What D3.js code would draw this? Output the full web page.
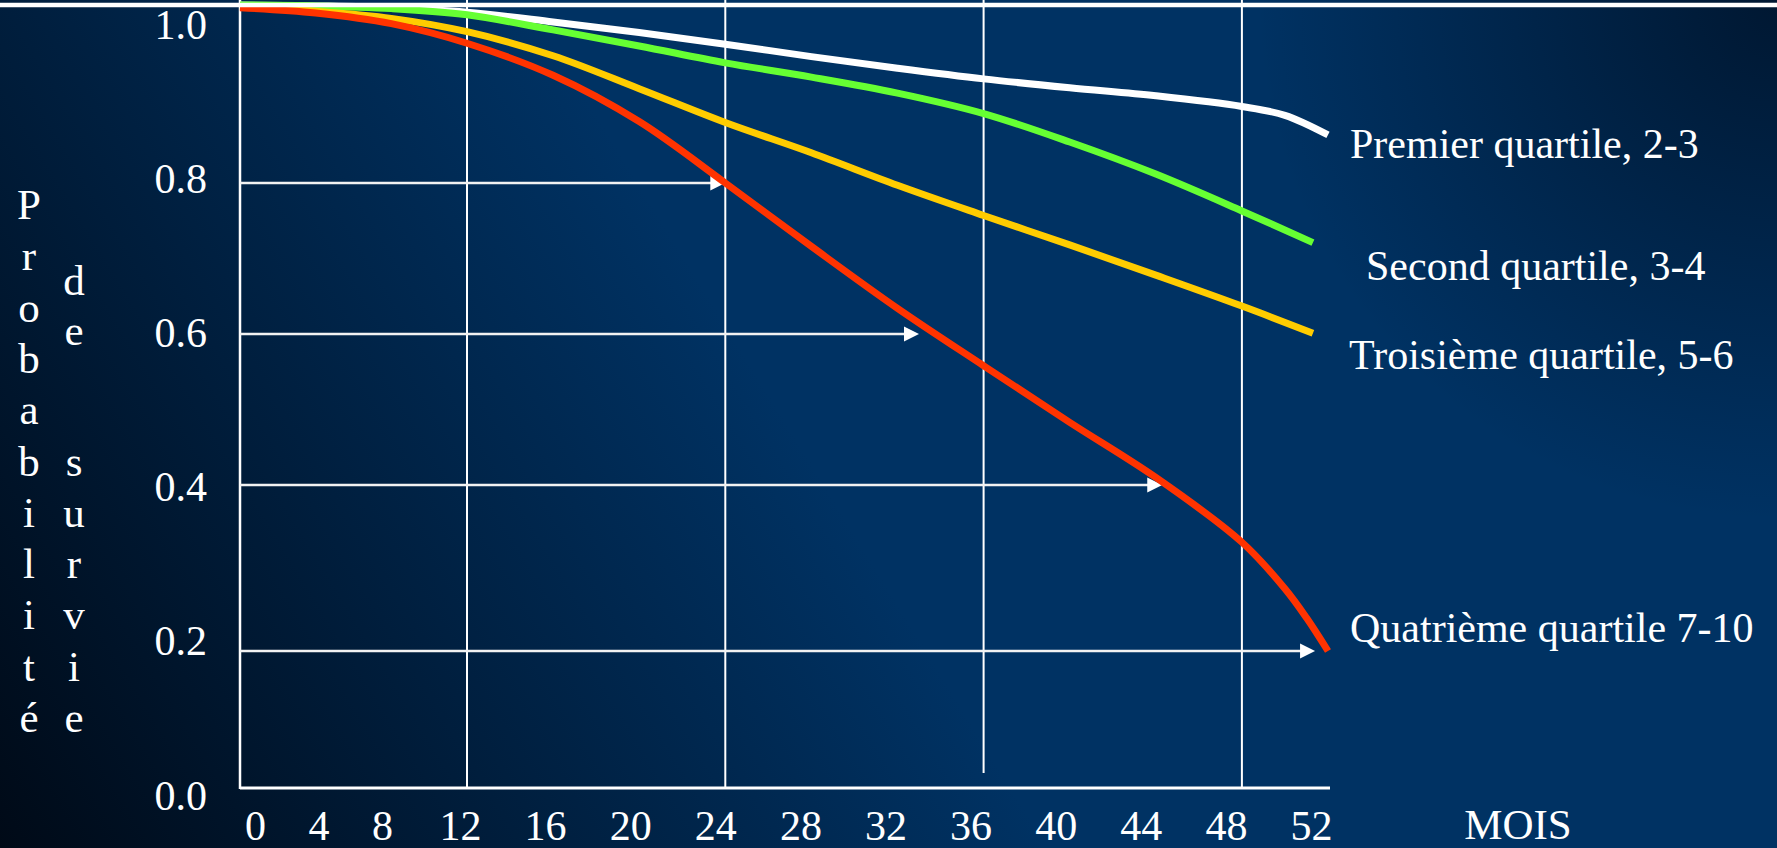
<!DOCTYPE html>
<html>
<head>
<meta charset="utf-8">
<script src="https://cdn.jsdelivr.net/npm/d3@7"></script>
<style>
  body { margin: 0; background: #003263; overflow: hidden; }
  svg text { font-family: "Liberation Serif", "Times New Roman", serif; fill: #ffffff; }
</style>
</head>
<body>
<svg id="chart" width="1777" height="848"></svg>
<script>
// ---- data ----
var xTicks = d3.range(0, 53, 4);
var yTicks = [0, 0.2, 0.4, 0.6, 0.8, 1.0];
var gridMonths = [12, 24, 36, 48];
var gridFloor = [0, 0, 0.022, 0];          // the 36-month line stops short of the axis
var arrowLevels = [0.8, 0.6, 0.4, 0.2];
var arrowMonths = [24, 33, 44.3, 51.4];    // where the 4th quartile reaches each level

var seriesNames = ["Premier quartile, 2-3", "Second quartile, 3-4",
                   "Troisième quartile, 5-6", "Quatrième quartile 7-10"];
var seriesColors = ["#ffffff", "#66ff33", "#ffcc00", "#ff3300"];

var premierMonths = [0, 4, 8, 12, 16, 20, 24, 28, 32, 36, 40, 44, 48, 50, 52];
var premierSurv   = [1.000, 0.999, 0.997, 0.992, 0.981, 0.969, 0.956, 0.942, 0.929, 0.917, 0.907, 0.898, 0.886, 0.876, 0.854];

var secondMonths = [0, 4, 8, 12, 16, 20, 24, 28, 32, 36, 40, 44, 48, 51.3];
var secondSurv   = [1.000, 0.999, 0.996, 0.989, 0.972, 0.954, 0.935, 0.919, 0.901, 0.878, 0.846, 0.810, 0.763, 0.721];

var troisiemeMonths = [0, 4, 8, 12, 16, 20, 24, 28, 32, 36, 40, 44, 48, 51.3];
var troisiemeSurv   = [0.998, 0.993, 0.985, 0.970, 0.943, 0.906, 0.868, 0.834, 0.797, 0.757, 0.718, 0.678, 0.637, 0.601];

var quatriemeMonths = [0, 4, 8, 12, 16, 20, 24, 28, 32, 36, 40, 44, 48, 50, 51, 52];
var quatriemeSurv   = [0.997, 0.991, 0.979, 0.957, 0.921, 0.869, 0.800, 0.716, 0.634, 0.558, 0.483, 0.410, 0.331, 0.275, 0.240, 0.200];

var yTitleA = "Probabilité";
var yTitleB = "de";
var yTitleC = "survie";
var xTitle = "MOIS";

// ---- scales (the slide was drawn by hand, so they are piecewise) ----
var xScale = d3.scaleLinear().domain([0, 12, 52]).range([240, 467, 1328]);
var yScale = d3.scaleLinear().domain([0, 0.2, 0.4, 0.6, 0.8, 1]).range([788, 651, 485, 334, 183, 5]);
var xLabelScale = d3.scaleLinear().domain([0, 8, 12, 52]).range([255, 382, 460, 1311]);
var yLabelScale = d3.scaleLinear().domain([0, 1]).range([809, 38]);

var svg = d3.select("#chart");
var defs = svg.append("defs");

var bg = defs.append("linearGradient").attr("id", "bg")
  .attr("gradientUnits", "userSpaceOnUse")
  .attr("x1", 0).attr("y1", 848).attr("x2", 760).attr("y2", 380);
bg.append("stop").attr("offset", "0%").attr("stop-color", "#000a17");
bg.append("stop").attr("offset", "100%").attr("stop-color", "#003263");

var corner = defs.append("radialGradient").attr("id", "corner")
  .attr("gradientUnits", "userSpaceOnUse")
  .attr("cx", 1777).attr("cy", 0).attr("r", 520);
corner.append("stop").attr("offset", "0%").attr("stop-color", "#000f22").attr("stop-opacity", 0.75);
corner.append("stop").attr("offset", "100%").attr("stop-color", "#000f22").attr("stop-opacity", 0);

svg.append("rect").attr("width", 1777).attr("height", 848).attr("fill", "url(#bg)");
svg.append("rect").attr("width", 1777).attr("height", 848).attr("fill", "url(#corner)");

// vertical grid lines
svg.append("g").selectAll("line")
  .data(gridMonths)
  .enter()
  .append("line")
  .attr("x1", (d) => xScale(d))
  .attr("x2", (d) => xScale(d))
  .attr("y1", 0)
  .attr("y2", (d, i) => yScale(gridFloor[i]))
  .style("stroke", "#ffffff")
  .style("stroke-width", "2px");

// y axis line and x axis line
svg.append("line")
  .attr("x1", xScale(0)).attr("x2", xScale(0))
  .attr("y1", 0).attr("y2", yScale(0) + 1)
  .style("stroke", "#ffffff").style("stroke-width", "2.5px");
svg.append("line")
  .attr("x1", xScale(0)).attr("x2", xScale(52) + 2)
  .attr("y1", yScale(0)).attr("y2", yScale(0))
  .style("stroke", "#ffffff").style("stroke-width", "3px");

// horizontal arrows pointing at the 4th quartile curve
var arrows = svg.append("g");
arrows.selectAll("line")
  .data(arrowLevels)
  .enter()
  .append("line")
  .attr("x1", xScale(0))
  .attr("x2", (d, i) => xScale(arrowMonths[i]) - 10)
  .attr("y1", (d) => yScale(d))
  .attr("y2", (d) => yScale(d))
  .style("stroke", "#f2f2f2")
  .style("stroke-width", "2.5px");
arrows.selectAll("path")
  .data(arrowLevels)
  .enter()
  .append("path")
  .attr("d", function (d, i) {
    var tx = xScale(arrowMonths[i]), ty = yScale(d);
    return "M" + tx + "," + ty + "L" + (tx - 15) + "," + (ty - 7.5) + "L" + (tx - 15) + "," + (ty + 7.5) + "Z";
  })
  .style("fill", "#ffffff");

// survival curves
var series = [
  { months: premierMonths, surv: premierSurv },
  { months: secondMonths, surv: secondSurv },
  { months: troisiemeMonths, surv: troisiemeSurv },
  { months: quatriemeMonths, surv: quatriemeSurv }
];
var line = d3.line()
  .x((d) => xScale(d[0]))
  .y((d) => yScale(d[1]))
  .curve(d3.curveCatmullRom.alpha(0.5));

svg.append("g").selectAll("path")
  .data(series)
  .enter()
  .append("path")
  .attr("d", (s) => line(s.months.map((m, i) => [m, s.surv[i]])))
  .style("fill", "none")
  .style("stroke", (d, i) => seriesColors[i])
  .style("stroke-width", "7px")
  .style("stroke-linecap", "butt")
  .style("stroke-linejoin", "round");

// top frame line (drawn over the curves)
svg.append("line")
  .attr("x1", 0).attr("x2", 1777)
  .attr("y1", yScale(1)).attr("y2", yScale(1))
  .style("stroke", "#ffffff").style("stroke-width", "4.5px");

// tick labels
var yAxisG = svg.append("g")
  .attr("transform", "translate(207,0)")
  .call(d3.axisLeft(yLabelScale).tickValues(yTicks).tickFormat(d3.format(".1f")).tickSize(0).tickPadding(0));
yAxisG.select(".domain").remove();
yAxisG.selectAll("text")
  .attr("x", 0)
  .attr("dy", 0)
  .style("font-size", "42px")
  .style("fill", "#ffffff");

var xAxisG = svg.append("g")
  .attr("transform", "translate(0,840)")
  .call(d3.axisBottom(xLabelScale).tickValues(xTicks).tickSize(0).tickPadding(0));
xAxisG.select(".domain").remove();
xAxisG.selectAll("text")
  .attr("y", 0)
  .attr("dy", 0)
  .style("font-size", "42px")
  .style("fill", "#ffffff");

svg.append("text")
  .attr("x", 1518).attr("y", 839)
  .attr("text-anchor", "middle")
  .style("font-size", "43px")
  .text(xTitle);

// vertical y title, one letter per line
function stacked(word, x, y0, step) {
  var t = svg.append("text")
    .attr("text-anchor", "middle")
    .style("font-size", "43px");
  word.split("").forEach(function (ch, i) {
    t.append("tspan").attr("x", x).attr("y", y0 + i * step).text(ch);
  });
}
stacked(yTitleA, 29, 219, 51.3);
stacked(yTitleB, 74, 295, 50);
stacked(yTitleC, 74, 475.5, 51.3);

// curve labels
var legendX = [1350, 1366, 1349, 1350];
var legendY = [158, 280, 369, 642];
svg.append("g").selectAll("text")
  .data(seriesNames)
  .enter()
  .append("text")
  .attr("x", (d, i) => legendX[i])
  .attr("y", (d, i) => legendY[i])
  .style("font-size", "42px")
  .text((d) => d);
</script>
</body>
</html>
